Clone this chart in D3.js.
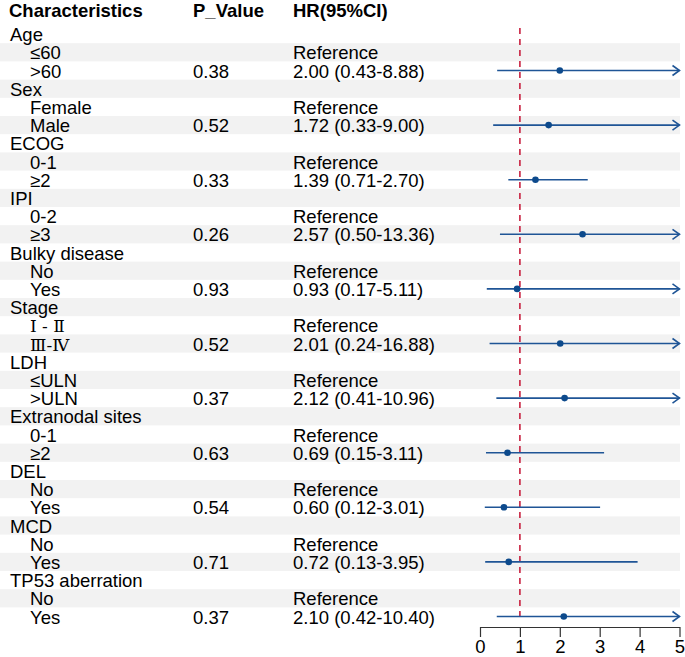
<!doctype html>
<html>

<head>
    <meta charset="UTF-8">
    <title>forest plot</title>
    <script src="https://d3js.org/d3.v7.min.js"></script>
    <style>
        body { margin: 0; background: #fff; }
        svg { display: block; font-family: "Liberation Sans", Arial, sans-serif; }
    </style>
</head>

<body>
    <svg class="forest" width="685" height="657"></svg>
    <script>
        // data
        var groups = ["Age", "Sex", "ECOG", "IPI", "Bulky disease", "Stage", "LDH",
            "Extranodal sites", "DEL", "MCD", "TP53 aberration"];
        var refLevels = ["≤60", "Female", "0-1", "0-2", "No", "Ⅰ - Ⅱ", "≤ULN", "0-1", "No", "No", "No"];
        var cmpLevels = [">60", "Male", "≥2", "≥3", "Yes", "Ⅲ-Ⅳ", ">ULN", "≥2", "Yes", "Yes", "Yes"];
        var pValues = ["0.38", "0.52", "0.33", "0.26", "0.93", "0.52", "0.37", "0.63", "0.54", "0.71", "0.37"];
        var hr = [2.00, 1.72, 1.39, 2.57, 0.93, 2.01, 2.12, 0.69, 0.60, 0.72, 2.10];
        var lower = [0.43, 0.33, 0.71, 0.50, 0.17, 0.24, 0.41, 0.15, 0.12, 0.13, 0.42];
        var upper = [8.88, 9.00, 2.70, 13.36, 5.11, 16.88, 10.96, 3.11, 3.01, 3.95, 10.40];
        var xTicks = [0, 1, 2, 3, 4, 5];
        var refLine = 1;

        var svg = d3.select(".forest");
        var fs = 18.5;
        var rowH = 18.2;
        var tableTop = 25;
        var nRows = groups.length * 3;

        var y = d3.scaleLinear().domain([0, nRows]).range([tableTop, tableTop + rowH * nRows]);
        var x = d3.scaleLinear().domain([0, 5]).range([480, 679.5]);

        // flatten into table rows
        var rows = [];
        groups.forEach(function (g, i) {
            rows.push({ label: g, indent: false });
            rows.push({ label: refLevels[i], indent: true, hrText: "Reference" });
            rows.push({
                label: cmpLevels[i], indent: true, p: pValues[i],
                hrText: hr[i].toFixed(2) + " (" + lower[i].toFixed(2) + "-" + upper[i].toFixed(2) + ")",
                est: hr[i], lo: lower[i], hi: upper[i]
            });
        });

        // stripes
        svg.selectAll("rect.band")
            .data(rows)
            .enter().append("rect")
            .attr("class", "band")
            .attr("x", 0)
            .attr("y", function (d, i) { return y(i); })
            .attr("width", 680)
            .attr("height", rowH)
            .attr("fill", function (d, i) { return i % 2 === 1 ? "#f2f2f2" : "none"; });

        // header
        var head = [["Characteristics", 9], ["P_Value", 193], ["HR(95%CI)", 293]];
        svg.selectAll("text.head")
            .data(head)
            .enter().append("text")
            .attr("class", "head")
            .attr("x", function (d) { return d[1]; })
            .attr("y", 17)
            .attr("font-size", fs)
            .attr("font-weight", "bold")
            .text(function (d) { return d[0]; });

        function baseY(i) { return y(i) + rowH / 2 + 7; }

        var txt = svg.append("g").attr("font-size", fs).attr("fill", "#000");
        rows.forEach(function (r, i) {
            var t = txt.append("text")
                .attr("x", r.indent ? 30 : 10)
                .attr("y", baseY(i))
                .text(r.label);
            if (/[\u2160-\u2188]/.test(r.label)) {
                t.attr("font-family", "DejaVu Serif, serif").attr("font-size", 17);
            }
            if (r.p) {
                txt.append("text").attr("x", 193).attr("y", baseY(i)).text(r.p);
            }
            if (r.hrText) {
                txt.append("text").attr("x", 293).attr("y", baseY(i)).text(r.hrText);
            }
        });

        // reference line
        svg.append("line")
            .attr("x1", x(refLine)).attr("x2", x(refLine))
            .attr("y1", 28).attr("y2", y(nRows) - 4)
            .attr("stroke", "#c8203f")
            .attr("stroke-width", 1.6)
            .attr("stroke-dasharray", "6,5");

        // CI lines
        var blue = "#1f5596";
        var est = rows.map(function (r, i) { return { r: r, i: i }; }).filter(function (d) { return d.r.est !== undefined; });
        var xmax = x.domain()[1];
        var g = svg.append("g");
        est.forEach(function (d) {
            var cy = y(d.i) + rowH / 2;
            var hi = Math.min(d.r.hi, xmax);
            g.append("line")
                .attr("x1", x(d.r.lo)).attr("x2", x(hi))
                .attr("y1", cy).attr("y2", cy)
                .attr("stroke", blue).attr("stroke-width", 1.6);
            if (d.r.hi > xmax) {
                g.append("path")
                    .attr("d", "M" + (x(xmax) - 7) + "," + (cy - 5) + "L" + x(xmax) + "," + cy + "L" + (x(xmax) - 7) + "," + (cy + 5))
                    .attr("fill", "none").attr("stroke", blue).attr("stroke-width", 1.6);
            }
            g.append("circle")
                .attr("cx", x(d.r.est)).attr("cy", cy).attr("r", 3.3)
                .attr("fill", "#0d4a8c");
        });

        // axis
        var axis = svg.append("g")
            .attr("transform", "translate(0," + 627 + ")")
            .call(d3.axisBottom(x).tickValues(xTicks).tickFormat(d3.format("d"))
                .tickSize(10).tickPadding(3).tickSizeOuter(0));
        axis.select(".domain").attr("stroke", "#333").attr("stroke-width", 1.2);
        axis.selectAll(".tick line").attr("stroke", "#333").attr("stroke-width", 1.2);
        axis.selectAll(".tick text")
            .attr("font-size", fs)
            .attr("font-family", "Liberation Sans, Arial, sans-serif")
            .attr("fill", "#000");
    </script>
</body>

</html>
